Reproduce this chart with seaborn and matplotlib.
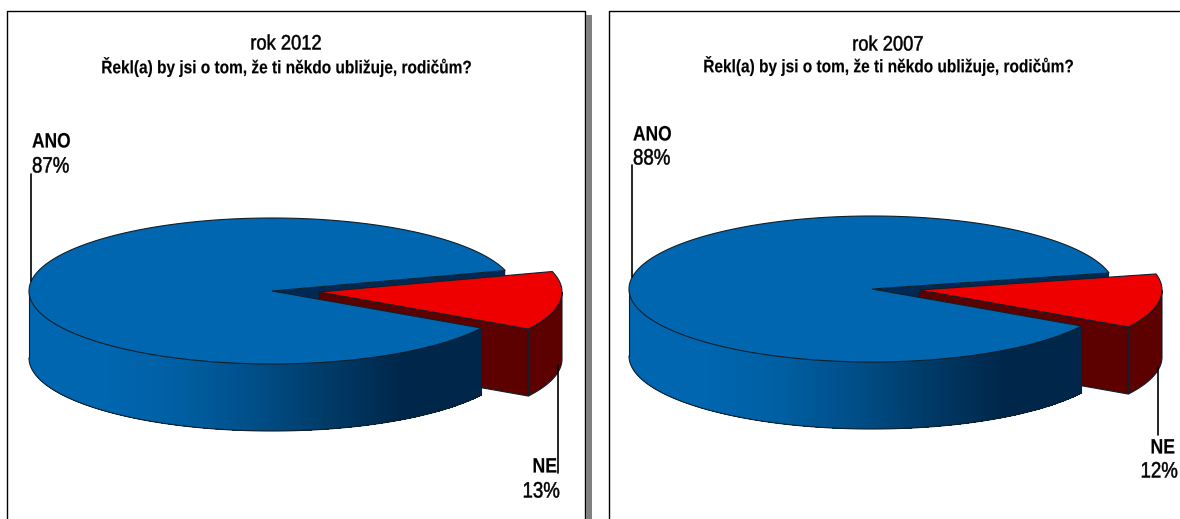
import numpy as np
import matplotlib
matplotlib.use("Agg")
import matplotlib.pyplot as plt
from matplotlib.patheffects import AbstractPathEffect
from matplotlib.transforms import Affine2D
import seaborn as sns

years = ["rok 2012", "rok 2007"]
question = "Řekl(a) by jsi o tom, že ti někdo ubližuje, rodičům?"
answers = ["ANO", "NE"]
ano_share = [87, 88]
ne_share = [13, 12]

sns.set_theme(style="white")
plt.rcParams["font.family"] = ["Liberation Sans", "DejaVu Sans"]

RX, RY, DEPTH = 243, 73, 67
LOWER_CUT = -30.5
SHIFT = (47, 1)
BLUE = "#0066B0"
RED = "#EE0000"
DARK_RED = "#5C0000"
DARK_BLUE = "#002A55"
EDGE = "#10202A"


class Squeeze(AbstractPathEffect):
    # the reference text is horizontally squashed, no condensed font installed
    def __init__(self, x, factor, stroke):
        super().__init__()
        self.x = x
        self.factor = factor
        self.stroke = stroke

    def draw_path(self, renderer, gc, tpath, affine, rgbFace=None):
        squeeze = Affine2D().translate(-self.x, 0).scale(self.factor, 1).translate(self.x, 0)
        gc0 = renderer.new_gc()
        gc0.copy_properties(gc)
        gc0.set_foreground("black")
        gc0.set_linewidth(self.stroke)
        renderer.draw_path(gc0, tpath, affine + squeeze, rgbFace)
        gc0.restore()


def label(ax, x, y, s, size, factor, ha="center", bold=False):
    anchor = ax.transData.transform((x, y))[0]
    ax.text(x, y, s, ha=ha, va="center", fontsize=size, color="black",
            fontweight="bold" if bold else "normal",
            path_effects=[Squeeze(anchor, factor, 0.1 if bold else 0.35)], zorder=8)


def rim(cx, cy, a0, a1, n=120):
    t = np.radians(np.linspace(a0, a1, n))
    return cx + RX * np.cos(t), cy - RY * np.sin(t)


def draw_pie(ax, cx, cy, ano, ne):
    upper_cut = LOWER_CUT + 360 * ne / (ano + ne)
    lw = 0.8

    # back wall of the notch
    ux, uy = rim(cx, cy, upper_cut, upper_cut, 1)
    ax.fill([cx, ux[0], ux[0], cx], [cy, uy[0], uy[0] + DEPTH, cy + DEPTH],
            color=DARK_BLUE, lw=0, zorder=1)

    # red slice, sides
    ex, ey = cx + SHIFT[0], cy + SHIFT[1]
    lx, ly = rim(ex, ey, LOWER_CUT, LOWER_CUT, 1)
    ax.fill([ex, lx[0], lx[0], ex], [ey, ly[0], ly[0] + DEPTH, ey + DEPTH],
            facecolor=DARK_RED, edgecolor=EDGE, lw=lw, zorder=2)
    wx, wy = rim(ex, ey, LOWER_CUT, 0)
    ax.fill(np.r_[wx, wx[::-1]], np.r_[wy, wy[::-1] + DEPTH],
            facecolor=DARK_RED, edgecolor=EDGE, lw=lw, zorder=2)

    # blue body, side: shading follows x, each fill runs to the end so no seams
    n_strips = 240
    shades = sns.blend_palette([BLUE, BLUE, "#005FA2", "#004E88", "#003A66", "#00264A", "#00264A"], n_strips)
    u = np.linspace(-1, np.cos(np.radians(LOWER_CUT)), n_strips + 1)
    edges = 360 - np.degrees(np.arccos(u))
    for i in range(n_strips):
        sx, sy = rim(cx, cy, edges[i], edges[-1], 60)
        ax.fill(np.r_[sx, sx[::-1]], np.r_[sy, sy[::-1] + DEPTH],
                color=shades[i], lw=0, zorder=3)
    bx, by = rim(cx, cy, 180, 360 + LOWER_CUT)
    ax.plot(bx, by + DEPTH, color=EDGE, lw=lw, zorder=4)
    ax.plot([bx[0], bx[0]], [by[0], by[0] + DEPTH], color=EDGE, lw=lw, zorder=4)
    ax.plot([bx[-1], bx[-1]], [by[-1], by[-1] + DEPTH], color=EDGE, lw=lw, zorder=4)

    # blue body, top
    tx, ty = rim(cx, cy, upper_cut, 360 + LOWER_CUT, 300)
    ax.fill(np.r_[cx, tx], np.r_[cy, ty], facecolor=BLUE, edgecolor=EDGE, lw=lw, zorder=5)

    # red slice, top
    rx, ry = rim(ex, ey, LOWER_CUT, upper_cut, 60)
    ax.fill(np.r_[ex, rx], np.r_[ey, ry], facecolor=RED, edgecolor=EDGE, lw=lw, zorder=6)


fig = plt.figure(figsize=(11.8, 5.19), dpi=100)
ax = fig.add_axes([0, 0, 1, 1])
ax.set_xlim(0, 1180)
ax.set_ylim(519, 0)
ax.axis("off")

# panel frames and the grey shadow of the left one
ax.plot([7, 7, 585, 585], [519, 11, 11, 519], color="black", lw=1, zorder=0)
ax.fill([586, 592, 592, 586], [15, 15, 519, 519], color="#808080", lw=0, zorder=0)
ax.plot([609, 609, 1180], [519, 11, 11], color="black", lw=1, zorder=0)

panels = [
    dict(cx=272, cy=291, tx=286, ty0=44, ty1=67, ano_x=32, ano_y=(142, 167), ano_line=(31, 174, 281),
         ne_x=557, ne_y=(467, 492), ne_line=(558, 365, 473)),
    dict(cx=872, cy=289, tx=888, ty0=45, ty1=66, ano_x=633, ano_y=(135, 159), ano_line=(632, 165, 277),
         ne_x=1175, ne_y=(448, 472), ne_line=(1158, 368, 435)),
]

for i, p in enumerate(panels):
    draw_pie(ax, p["cx"], p["cy"], ano_share[i], ne_share[i])
    label(ax, p["tx"], p["ty0"], years[i], 15, 0.88)
    label(ax, p["tx"], p["ty1"], question, 13, 0.855, bold=True)

    x, y0, y1 = p["ano_line"]
    ax.plot([x, x], [y0, y1], color="black", lw=1.2, zorder=7)
    label(ax, p["ano_x"], p["ano_y"][0], answers[0], 15, 0.835, ha="left", bold=True)
    label(ax, p["ano_x"], p["ano_y"][1], f"{ano_share[i]}%", 16, 0.84, ha="left")

    x, y0, y1 = p["ne_line"]
    ax.plot([x, x], [y0, y1], color="black", lw=1.2, zorder=7)
    label(ax, p["ne_x"], p["ne_y"][0], answers[1], 15, 0.85, ha="right", bold=True)
    label(ax, p["ne_x"] + 3, p["ne_y"][1], f"{ne_share[i]}%", 16, 0.84, ha="right")

fig.savefig("out.png", dpi=100)
